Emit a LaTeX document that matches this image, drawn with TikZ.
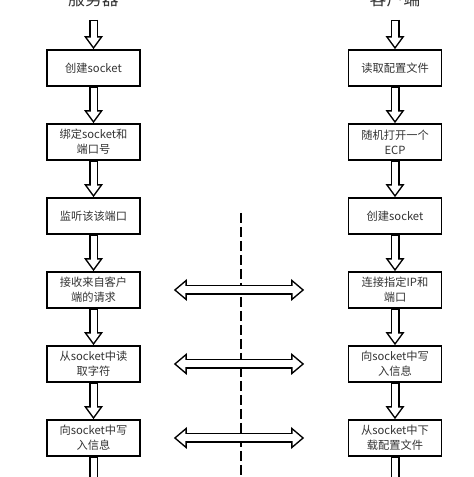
\documentclass[tikz,border=0pt]{standalone}
\usepackage{fontspec}
\newfontfamily\cjk{Noto Sans CJK SC}
\usetikzlibrary{arrows.meta}
\tikzstyle{stepbox} = [rectangle, draw, line width=0.035cm, minimum width=1.86cm, minimum height=0.72cm, inner sep=0pt, align=center, text=black!80, font=\cjk\fontsize{6.4}{8.5}\selectfont]
\tikzstyle{title} = [anchor=base, inner sep=0pt, text=black!80, font=\cjk\fontsize{9.6}{11}\selectfont]
\tikzstyle{downarrow} = [line width=0.18cm, -{Triangle[length=0.26cm,width=0.38cm,line width=0pt]},
  postaction={draw=white, line width=0.12cm, shorten <=0.03cm, shorten >=0.051cm, -{Triangle[length=0.179cm,width=0.262cm,line width=0pt]}}]
\tikzstyle{talkarrow} = [line width=0.2cm, shorten <=0.66cm, shorten >=0.87cm,
  {Triangle[length=0.26cm,width=0.44cm,line width=0pt]}-{Triangle[length=0.26cm,width=0.44cm,line width=0pt]},
  postaction={draw=white, line width=0.14cm, shorten <=0.7065cm, shorten >=0.9165cm,
  {Triangle[length=0.1835cm,width=0.31cm,line width=0pt]}-{Triangle[length=0.1835cm,width=0.31cm,line width=0pt]}}]
\tikzstyle{divider} = [line width=0.035cm, dash pattern=on 0.2cm off 0.08cm]

\begin{document}
\begin{tikzpicture}

\useasboundingbox (0,0) rectangle (9.46,9.54);

\node[title] (srv_title) at (1.87,9.42) {服务器};
\node[title] (cli_title) at (7.9,9.42) {客户端};

% server side

\node[stepbox] (srv_create) at (1.87,8.18) {创建socket};
\node[stepbox] (srv_bind) at (1.87,6.70) {绑定socket和\\端口号};
\node[stepbox] (srv_listen) at (1.87,5.22) {监听该该端口};
\node[stepbox] (srv_accept) at (1.87,3.74) {接收来自客户\\端的请求};
\node[stepbox] (srv_read) at (1.87,2.26) {从socket中读\\取字符};
\node[stepbox] (srv_write) at (1.87,0.78) {向socket中写\\入信息};

\coordinate (srv_in) at (1.87,9.14);
\coordinate (srv_out) at (1.87,-0.5);

\draw [downarrow] (srv_in) -- (srv_create);
\draw [downarrow] (srv_create) -- (srv_bind);
\draw [downarrow] (srv_bind) -- (srv_listen);
\draw [downarrow] (srv_listen) -- (srv_accept);
\draw [downarrow] (srv_accept) -- (srv_read);
\draw [downarrow] (srv_read) -- (srv_write);
\draw [downarrow] (srv_write) -- (srv_out);

% client side

\node[stepbox] (cli_config) at (7.9,8.18) {读取配置文件};
\node[stepbox] (cli_ecp) at (7.9,6.70) {随机打开一个\\ECP};
\node[stepbox] (cli_create) at (7.9,5.22) {创建socket};
\node[stepbox] (cli_connect) at (7.9,3.74) {连接指定IP和\\端口};
\node[stepbox] (cli_write) at (7.9,2.26) {向socket中写\\入信息};
\node[stepbox] (cli_download) at (7.9,0.78) {从socket中下\\载配置文件};

\coordinate (cli_in) at (7.9,9.14);
\coordinate (cli_out) at (7.9,-0.5);

\draw [downarrow] (cli_in) -- (cli_config);
\draw [downarrow] (cli_config) -- (cli_ecp);
\draw [downarrow] (cli_ecp) -- (cli_create);
\draw [downarrow] (cli_create) -- (cli_connect);
\draw [downarrow] (cli_connect) -- (cli_write);
\draw [downarrow] (cli_write) -- (cli_download);
\draw [downarrow] (cli_download) -- (cli_out);

% between the two

\coordinate (div_top) at (4.82,5.28);
\coordinate (div_bot) at (4.82,0);
\draw [divider] (div_top) -- (div_bot);

\draw [talkarrow] (srv_accept) -- (cli_connect);
\draw [talkarrow] (srv_read) -- (cli_write);
\draw [talkarrow] (srv_write) -- (cli_download);

\end{tikzpicture}
\end{document}
